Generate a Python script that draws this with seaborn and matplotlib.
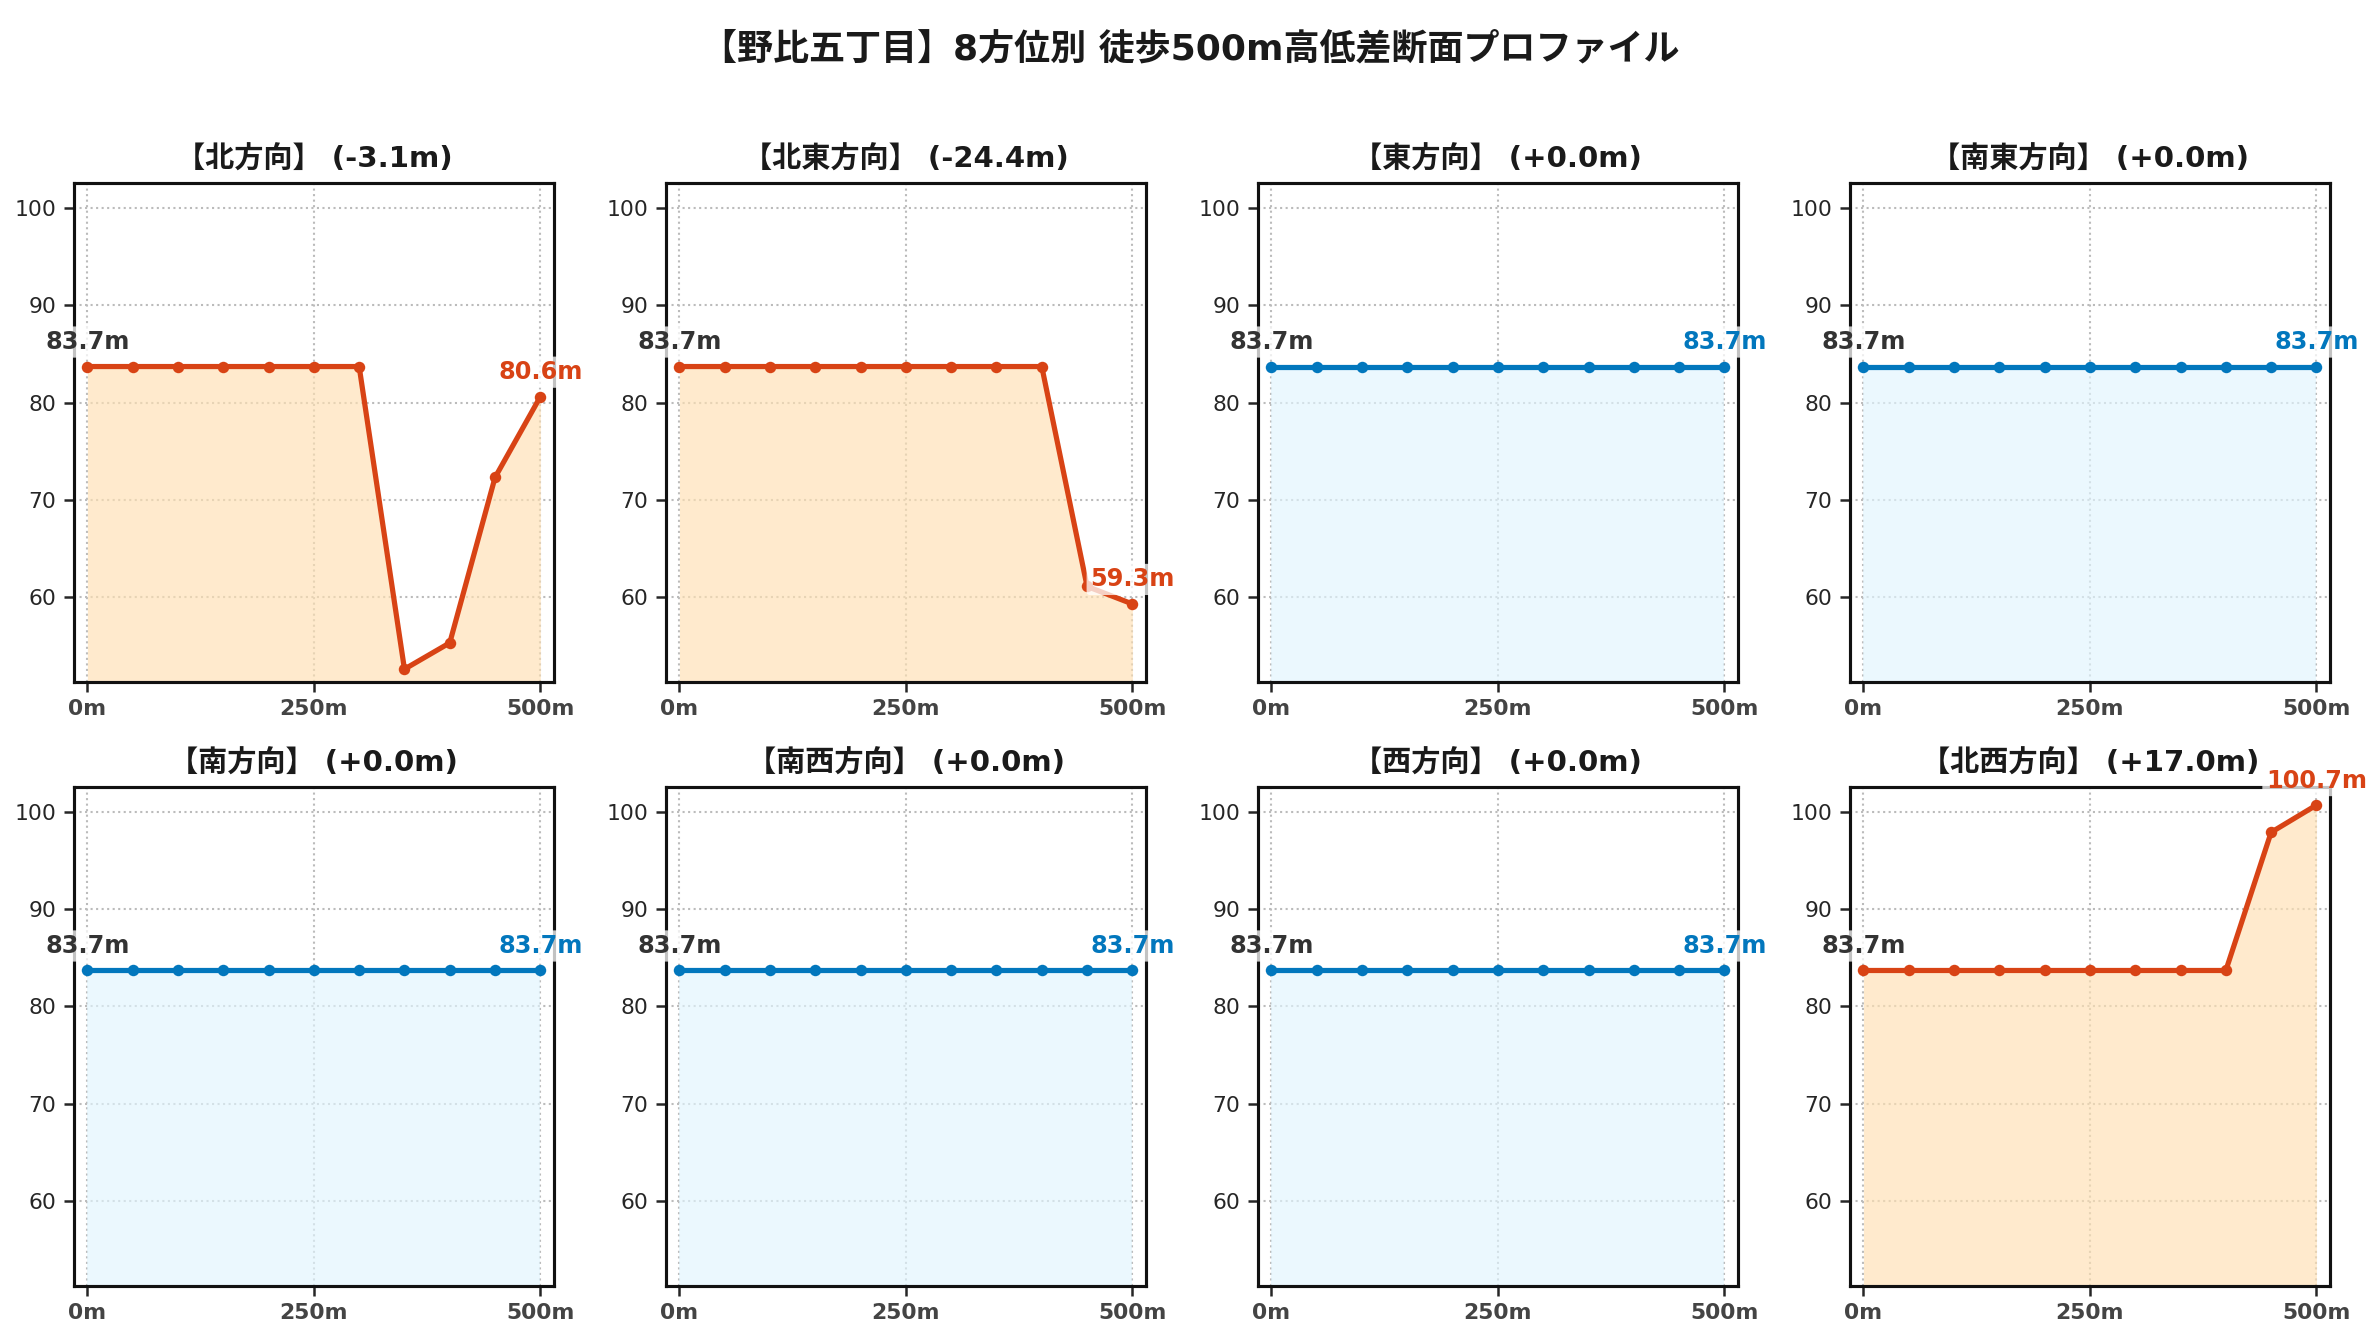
import numpy as np
import seaborn as sns
import matplotlib.pyplot as plt

sns.set_style('ticks')
plt.rcParams['font.family'] = ['DejaVu Sans', 'Noto Sans CJK JP']

# 8方位の標高データ (0m〜500m, 50m間隔)
distances = [0, 50, 100, 150, 200, 250, 300, 350, 400, 450, 500]
directions = ['北', '北東', '東', '南東', '南', '南西', '西', '北西']

elev_n = [83.7, 83.7, 83.7, 83.7, 83.7, 83.7, 83.7, 52.6, 55.3, 72.3, 80.6]
elev_ne = [83.7, 83.7, 83.7, 83.7, 83.7, 83.7, 83.7, 83.7, 83.7, 61.1, 59.3]
elev_e = [83.7, 83.7, 83.7, 83.7, 83.7, 83.7, 83.7, 83.7, 83.7, 83.7, 83.7]
elev_se = [83.7, 83.7, 83.7, 83.7, 83.7, 83.7, 83.7, 83.7, 83.7, 83.7, 83.7]
elev_s = [83.7, 83.7, 83.7, 83.7, 83.7, 83.7, 83.7, 83.7, 83.7, 83.7, 83.7]
elev_sw = [83.7, 83.7, 83.7, 83.7, 83.7, 83.7, 83.7, 83.7, 83.7, 83.7, 83.7]
elev_w = [83.7, 83.7, 83.7, 83.7, 83.7, 83.7, 83.7, 83.7, 83.7, 83.7, 83.7]
elev_nw = [83.7, 83.7, 83.7, 83.7, 83.7, 83.7, 83.7, 83.7, 83.7, 97.9, 100.7]

profiles = [elev_n, elev_ne, elev_e, elev_se, elev_s, elev_sw, elev_w, elev_nw]

fig, axes = plt.subplots(2, 4, figsize=(2380 / 150, 1340 / 150), dpi=150)
fig.subplots_adjust(left=0.031, right=0.979, top=0.8637, bottom=0.0405,
                    wspace=0.233, hspace=0.21)

for ax, name, vals in zip(axes.flat, directions, profiles):
    diff = vals[-1] - vals[0]
    if abs(diff) > 0.05:
        line_c, fill_c = '#D84315', '#FFE0B2'
    else:
        line_c, fill_c = '#0277BD', '#E1F5FE'

    ax.fill_between(distances, vals, 0, color=fill_c, alpha=0.65, lw=0, zorder=1)
    sns.lineplot(x=distances, y=vals, ax=ax, color=line_c, lw=2.5,
                 marker='o', markersize=5.5, markeredgewidth=0, zorder=3)

    ax.set_ylim(51.3, 102.6)
    ax.set_xlim(-15, 515)
    ax.set_xticks([0, 250, 500])
    ax.set_xticklabels(['0m', '250m', '500m'], fontweight='bold', color='#444444')
    ax.set_yticks([60, 70, 80, 90, 100])
    ax.tick_params(labelsize=10.5, width=1.2, length=5)
    ax.grid(True, ls=':', color='#bbbbbb', lw=1, zorder=0)
    ax.set_axisbelow(True)
    for sp in ax.spines.values():
        sp.set_linewidth(1.5)
        sp.set_color('#111111')
    ax.set_xlabel('')
    ax.set_ylabel('')

    sign = '+' if diff >= 0 else '-'
    ax.set_title(f'【{name}方向】 ({sign}{abs(diff):.1f}m)', fontsize=14,
                 fontweight='bold', color='#1a1a1a', pad=7)

    box = dict(boxstyle='round,pad=0.15', fc='white', ec='none', alpha=0.75)
    ax.annotate(f'{vals[0]:.1f}m', (distances[0], vals[0]), xytext=(0, 6),
                textcoords='offset points', ha='center', va='bottom',
                fontsize=11.5, fontweight='bold', color='#333333', bbox=box,
                zorder=5, annotation_clip=False)
    ax.annotate(f'{vals[-1]:.1f}m', (distances[-1], vals[-1]), xytext=(0, 6),
                textcoords='offset points', ha='center', va='bottom',
                fontsize=11.5, fontweight='bold', color=line_c, bbox=box,
                zorder=5, annotation_clip=False)

fig.suptitle('【野比五丁目】8方位別 徒歩500m高低差断面プロファイル', fontsize=17.3,
             fontweight='bold', color='#1a1a1a', y=0.976)

fig.savefig('out.png', dpi=150)
